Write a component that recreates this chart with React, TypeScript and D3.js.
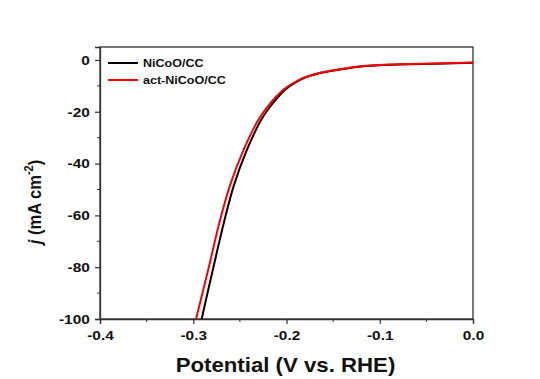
import { useEffect, useRef } from "react";
import * as d3 from "d3";

// potential (V vs. RHE) and current density (mA cm-2)
const potentialBlack = [-0.291, -0.279, -0.2666, -0.2565, -0.2428, -0.2273, -0.2186, -0.21, -0.2015, -0.1912, -0.1809, -0.1669, -0.1495, -0.1336, -0.1243, -0.0892, -0.0538, 0];
const currentBlack = [-100, -81, -62, -48.5, -35, -23.2, -18.5, -14.7, -11.5, -8.9, -6.9, -5.3, -4.1, -3.2, -2.7, -1.9, -1.6, -1.1];

const potentialRed = [-0.297, -0.284, -0.2714, -0.2607, -0.2464, -0.2303, -0.2213, -0.2124, -0.2035, -0.1928, -0.1821, -0.1677, -0.15, -0.1339, -0.1245, -0.0892, -0.0538, 0];
const currentRed = [-100, -81, -62, -48.5, -35, -23.2, -18.5, -14.7, -11.5, -8.9, -6.9, -5.3, -4.0, -3.1, -2.6, -1.8, -1.5, -1.0];

const seriesNames = ["NiCoO/CC", "act-NiCoO/CC"];
const seriesColors = ["#000000", "#ff0000"];

const xTicks = [-0.4, -0.3, -0.2, -0.1, 0.0];
const xMinor = [-0.35, -0.25, -0.15, -0.05];
const yTicks = [0, -20, -40, -60, -80, -100];
const yMinor = [-10, -30, -50, -70, -90];

const App = () => {
  const ref = useRef(null);

  useEffect(() => {
    const width = 540;
    const height = 379;
    const left = 100, right = 473, top = 47, bottom = 319;
    const font = "'Liberation Sans', Arial, sans-serif";
    const sx = 1.14; // the picture's text is a bit wide

    const root = d3.select(ref.current);
    root.selectAll("*").remove();
    const svg = root
      .append("svg")
      .attr("width", width)
      .attr("height", height)
      .style("display", "block")
      .style("background", "#ffffff");

    const x = d3.scaleLinear().domain([-0.4, 0]).range([left, right]);
    const y = d3.scaleLinear().domain([-100, 5]).range([bottom, top]);

    const fmt = (d) => d3.format(".1f")(d).replace("−", "-");

    // frame
    svg
      .append("rect")
      .attr("x", left)
      .attr("y", top)
      .attr("width", right - left)
      .attr("height", bottom - top)
      .attr("fill", "none")
      .attr("stroke", "#333")
      .attr("stroke-width", 1.3);

    // x axis
    const xAxis = svg.append("g").attr("transform", `translate(0, ${bottom})`);
    xAxis.call(d3.axisBottom(x).tickValues(xTicks).tickSize(5).tickPadding(6).tickFormat(fmt));
    xAxis
      .append("g")
      .selectAll("line")
      .data(xMinor)
      .join("line")
      .attr("x1", (d) => x(d))
      .attr("x2", (d) => x(d))
      .attr("y1", 0)
      .attr("y2", 3)
      .attr("stroke", "#333");

    // y axis
    const yAxis = svg.append("g").attr("transform", `translate(${left}, 0)`);
    yAxis.call(
      d3.axisLeft(y).tickValues(yTicks).tickSize(5).tickPadding(4).tickFormat((d) => String(d))
    );
    yAxis
      .append("g")
      .selectAll("line")
      .data(yMinor)
      .join("line")
      .attr("x1", 0)
      .attr("x2", -3)
      .attr("y1", (d) => y(d))
      .attr("y2", (d) => y(d))
      .attr("stroke", "#333");

    svg.selectAll(".domain").attr("stroke", "#333").attr("stroke-width", 1.3);
    svg.selectAll(".tick line").attr("stroke", "#333").attr("stroke-width", 1.2);
    svg
      .selectAll(".tick text")
      .attr("font-family", font)
      .attr("font-size", 13.5)
      .attr("font-weight", "bold")
      .attr("fill", "#111")
      .attr("transform", `scale(${sx},1)`);

    // curves
    const line = d3
      .line<[number, number]>()
      .x((d) => x(d[0]))
      .y((d) => y(d[1]))
      .curve(d3.curveCatmullRom.alpha(0.5));

    const data = [
      d3.zip(potentialBlack, currentBlack),
      d3.zip(potentialRed, currentRed),
    ];

    data.forEach((pts, i) => {
      svg
        .append("path")
        .datum(pts)
        .attr("d", line as any)
        .attr("fill", "none")
        .attr("stroke", seriesColors[i])
        .attr("stroke-width", 2);
    });

    // legend
    seriesNames.forEach((name, i) => {
      const ly = 63 + i * 17;
      svg
        .append("line")
        .attr("x1", 108)
        .attr("x2", 138)
        .attr("y1", ly)
        .attr("y2", ly)
        .attr("stroke", seriesColors[i])
        .attr("stroke-width", 2);
      svg
        .append("text")
        .attr("transform", `translate(143, ${ly + 4}) scale(${sx},1)`)
        .attr("font-family", font)
        .attr("font-size", 11)
        .attr("font-weight", "bold")
        .attr("fill", "#111")
        .text(name);
    });

    // axis titles
    svg
      .append("text")
      .attr("transform", `translate(${(left + right) / 2 - 1}, 372) scale(${sx},1)`)
      .attr("text-anchor", "middle")
      .attr("font-family", font)
      .attr("font-size", 19.5)
      .attr("font-weight", "bold")
      .attr("fill", "#111")
      .text("Potential (V vs. RHE)");

    const yt = svg
      .append("text")
      .attr("transform", `translate(41, 202) rotate(-90) scale(1,${sx})`)
      .attr("text-anchor", "middle")
      .attr("font-family", font)
      .attr("font-size", 16.5)
      .attr("font-weight", "bold")
      .attr("fill", "#111");
    yt.append("tspan").attr("font-style", "italic").text("j");
    yt.append("tspan").text(" (mA cm");
    yt.append("tspan").attr("font-size", 11).attr("dy", -7).text("-2");
    yt.append("tspan").attr("dy", 7).text(")");
  }, []);

  return <div ref={ref} style={{ position: "absolute", left: 0, top: 0 }} />;
};

export default App;
